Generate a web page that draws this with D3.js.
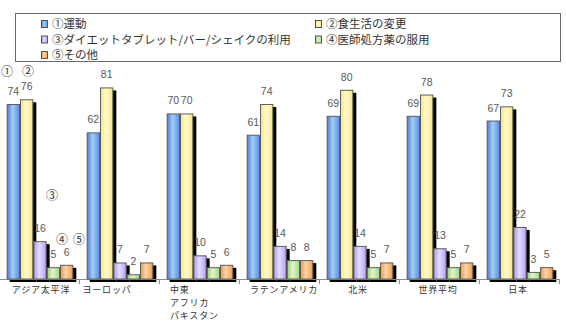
<!DOCTYPE html>
<html><head><meta charset="utf-8">
<script src="https://cdn.jsdelivr.net/npm/d3@7"></script>
<style>body{margin:0;background:#fff}svg{display:block}</style>
</head><body><svg id="c" width="566" height="328"></svg>
<script>
const categories = ["アジア太平洋", "ヨーロッパ", "中東\nアフリカ\nパキスタン", "ラテンアメリカ", "北米", "世界平均", "日本"];
const seriesNames = ["①運動", "②食生活の変更", "③ダイエットタブレット/バー/シェイクの利用", "④医師処方薬の服用", "⑤その他"];
const s1 = [74, 62, 70, 61, 69, 69, 67];
const s2 = [76, 81, 70, 74, 80, 78, 73];
const s3 = [16, 7, 10, 14, 14, 13, 22];
const s4 = [5, 2, 5, 8, 5, 5, 3];
const s5 = [6, 7, 6, 8, 7, 7, 5];
const annotations = ["①", "②", "③", "④", "⑤"];

const series = [s1, s2, s3, s4, s5];
const grads = [
  ["#4a7dd6", "#a9cbf7", "#5a8de0"],
  ["#ffe272", "#fffbd2", "#ffe47a"],
  ["#b09aef", "#e4dcff", "#b8a2f0"],
  ["#9ccf7e", "#e0f5cc", "#a6d688"],
  ["#f5973f", "#ffd5ac", "#f59a45"]
];

const svg = d3.select("#c");
const defs = svg.append("defs");
grads.forEach((g, i) => {
  const lg = defs.append("linearGradient").attr("id", "g" + i).attr("x1", "0%").attr("x2", "100%").attr("y1", "0%").attr("y2", "0%");
  lg.append("stop").attr("offset", "0%").attr("stop-color", g[0]);
  lg.append("stop").attr("offset", "45%").attr("stop-color", g[1]);
  lg.append("stop").attr("offset", "100%").attr("stop-color", g[2]);
});

const x0 = d3.scaleBand().domain(d3.range(categories.length)).range([0, 560]).paddingInner(0).paddingOuter(0);
const x1 = d3.scaleBand().domain(d3.range(series.length)).range([x0.bandwidth() / 12, x0.bandwidth() * 11 / 12]);
const y = d3.scaleLinear().domain([0, 100]).range([279, 42.5]);

// legend box
svg.append("rect").attr("x", 15.5).attr("y", 13.5).attr("width", 545).attr("height", 48).attr("fill", "#fff").attr("stroke", "#6a6a6a");
const legendPos = [[41, 24], [315, 24], [41, 39.5], [315, 39.5], [41, 55]];
seriesNames.forEach((n, i) => {
  const [lx, ly] = legendPos[i];
  svg.append("rect").attr("x", lx + 0.5).attr("y", ly - 3.5).attr("width", 6).attr("height", 7).attr("fill", `url(#g${i})`).attr("stroke", "#555");
  svg.append("text").attr("x", lx + 11).attr("y", ly + 4).attr("font-family", "'Noto Sans CJK JP'").attr("font-size", 11.5).attr("fill", "#333").text(n);
});

const bars = [];
categories.forEach((c, ci) => series.forEach((s, si) => bars.push({ci, si, v: s[ci]})));
const bx = d => x0(d.ci) + x1(d.si);
const bw = x1.bandwidth();

// shadows
svg.append("g").selectAll("rect").data(bars).join("rect")
  .attr("x", d => bx(d) + 3).attr("y", d => y(d.v) + 3).attr("width", bw).attr("height", d => y(0) - y(d.v)).attr("fill", "#000");

// axis
const ax = svg.append("g");
ax.append("line").attr("x1", 0).attr("x2", 560).attr("y1", 279.5).attr("y2", 279.5).attr("stroke", "#8a8a8a");
d3.range(1, categories.length + 1).forEach(i => {
  ax.append("line").attr("x1", x0.step() * i - 0.5).attr("x2", x0.step() * i - 0.5).attr("y1", 279).attr("y2", 284).attr("stroke", "#8a8a8a");
});

// bars
svg.append("g").selectAll("rect").data(bars).join("rect")
  .attr("x", d => bx(d) + 0.5).attr("y", d => y(d.v) + 0.5).attr("width", bw - 1).attr("height", d => y(0) - y(d.v) - 0.5)
  .attr("fill", d => `url(#g${d.si})`).attr("stroke", "#5e5e5e").attr("stroke-width", 1);

// value labels
svg.append("g").selectAll("text").data(bars).join("text")
  .attr("x", d => bx(d) + bw / 2).attr("y", d => y(d.v) - 9)
  .attr("text-anchor", "middle").attr("font-family", "'Liberation Sans', Arial, sans-serif").attr("font-size", 10.5)
  .attr("fill", "#595959")
  .text(d => d.v);

// annotation circled numbers above Asia-Pacific group
const annPos = [[7, 76], [28, 76], [52, 200], [62, 244], [79, 244]];
annotations.forEach((a, i) => {
  svg.append("text").attr("x", annPos[i][0]).attr("y", annPos[i][1]).attr("text-anchor", "middle")
    .attr("font-family", "'Noto Sans CJK JP'").attr("font-size", 12).attr("fill", "#333").text(a);
});

// category labels
const labelDx = [1, -13, 0, 4, -2, -2, -2];
categories.forEach((c, i) => {
  const lines = c.split("\n");
  const multi = lines.length > 1;
  lines.forEach((ln, li) => {
    svg.append("text").attr("font-family", "'Noto Sans CJK JP'").attr("font-size", 9).attr("fill", "#333")
      .attr("letter-spacing", "0.8px")
      .attr("text-anchor", multi ? "start" : "middle")
      .attr("x", multi ? x0(i) + 10 : x0(i) + x0.bandwidth() / 2 + labelDx[i]).attr("y", 292.5 + li * 13).text(ln);
  });
});
</script></body></html>
